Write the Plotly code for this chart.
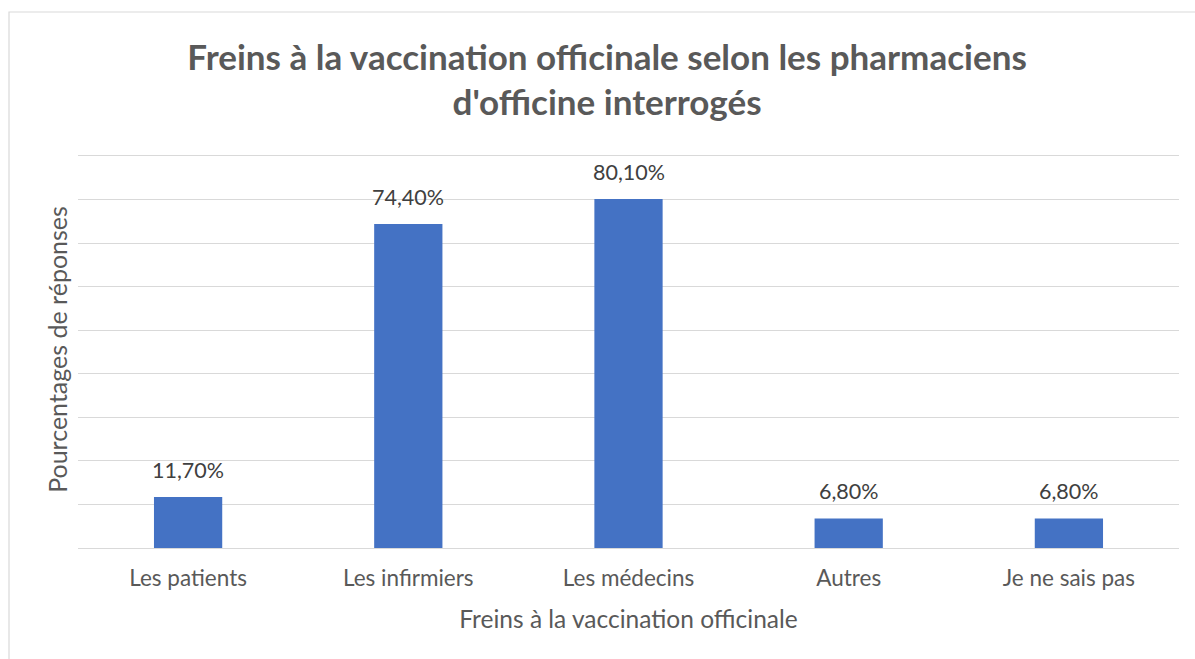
import plotly.graph_objects as go

categories = ["Les patients", "Les infirmiers", "Les médecins", "Autres", "Je ne sais pas"]
values = [11.7, 74.4, 80.1, 6.8, 6.8]
title_text = "Freins à la vaccination officinale selon les pharmaciens<br>d'officine interrogés"
x_title = "Freins à la vaccination officinale"
y_title = "Pourcentages de réponses"

FONT = "Lato, Calibri, 'Open Sans', sans-serif"
GREY = "#595959"

W, H = 1195, 659
ML, MR, MT, MB = 78, 16, 151, 111
plot_w = W - ML - MR
plot_h = H - MT - MB
unit_px = 43.56 / 10
y_top = plot_h / unit_px

fig = go.Figure(go.Bar(
    x=categories, y=values,
    marker=dict(color="#4472C4", line=dict(width=0)),
    hoverinfo="skip",
))

annotations = []
for c, v in zip(categories, values):
    annotations.append(dict(
        x=c, y=v, xref="x", yref="y",
        text=f"{v:.2f}%".replace(".", ","),
        showarrow=False, yshift=27,
        font=dict(family=FONT, size=21.5, color="#404040"),
    ))

fig.update_layout(
    width=W, height=H,
    margin=dict(l=ML, r=MR, t=MT, b=MB, autoexpand=False),
    paper_bgcolor="white", plot_bgcolor="white",
    bargap=0.69,
    showlegend=False,
    title=dict(
        text=title_text, x=0.508, xanchor="center", y=0.894, yanchor="middle",
        font=dict(family=FONT, size=35, color=GREY, weight="bold"),
    ),
    xaxis=dict(
        title=dict(text=x_title, font=dict(family=FONT, size=24.5, color=GREY), standoff=21),
        tickfont=dict(family=FONT, size=22.5, color=GREY),
        ticklabelstandoff=14,
        showline=False, ticks="", showgrid=False, automargin=False,
    ),
    yaxis=dict(
        title=dict(text=y_title, font=dict(family=FONT, size=25, color=GREY), standoff=2),
        range=[0, y_top], tickvals=[0, 10, 20, 30, 40, 50, 60, 70, 80, 90], showticklabels=False,
        gridcolor="#D9D9D9", gridwidth=1.3, zeroline=True, zerolinecolor="#D9D9D9", zerolinewidth=1.3,
        showline=False, ticks="", automargin=False,
    ),
    annotations=annotations,
    shapes=[dict(
        type="rect", xref="paper", yref="paper",
        x0=-(ML - 9) / plot_w, x1=1.1, y0=-0.5, y1=1 + (MT - 12) / plot_h,
        line=dict(color="#D9D9D9", width=1.2), fillcolor="rgba(0,0,0,0)", layer="below",
    )],
)

fig.write_html(
    "out.html",
    config={"displayModeBar": False},
    post_script="document.body.style.margin='0';document.body.style.overflow='hidden';",
)
